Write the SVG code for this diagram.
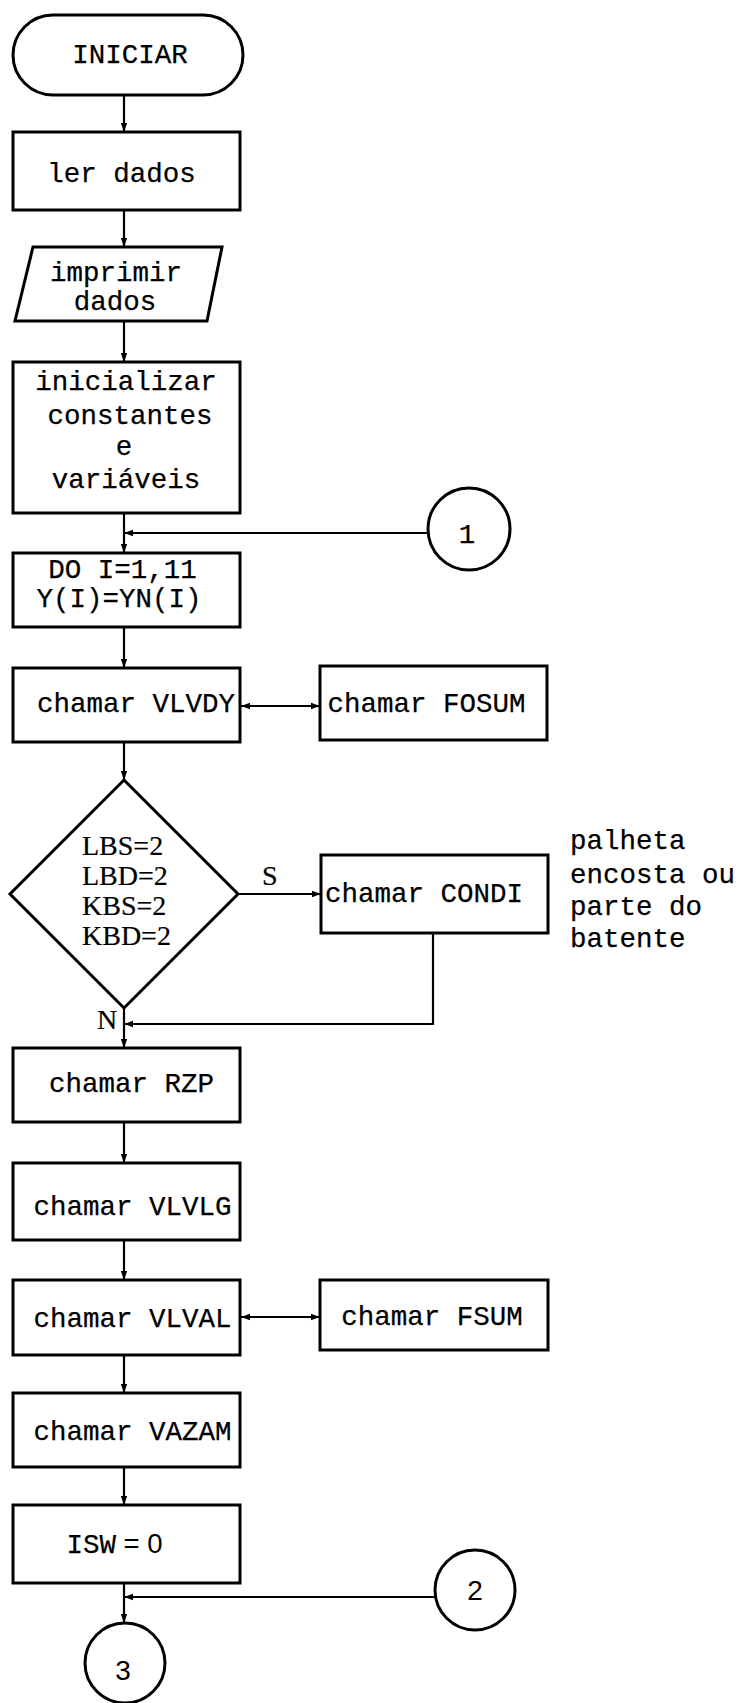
<svg xmlns="http://www.w3.org/2000/svg" width="752" height="1703" viewBox="0 0 752 1703">
<style>
.n{fill:#fff;stroke:#000;stroke-width:3}
.t{font-family:"Liberation Mono",monospace;font-size:27.5px;fill:#000;stroke:#000;stroke-width:0.25;text-anchor:middle}
.s{font-family:"Liberation Serif",serif;font-size:28px;fill:#000;stroke:#000;stroke-width:0.2}
.a{font-family:"Liberation Sans",sans-serif;font-size:28px;fill:#000;text-anchor:middle}
.c{fill:none;stroke:#000;stroke-width:2.2}
</style>
<defs>
<marker id="ah" markerUnits="userSpaceOnUse" markerWidth="10" markerHeight="8" refX="9" refY="4" orient="auto">
<path d="M0,0.8 L9,4 L0,7.2 Z" fill="#000"/>
</marker>
<marker id="as" markerUnits="userSpaceOnUse" markerWidth="10" markerHeight="8" refX="1" refY="4" orient="auto">
<path d="M10,0.8 L1,4 L10,7.2 Z" fill="#000"/>
</marker>
</defs>
<rect width="752" height="1703" fill="#fff"/>
<g id="connectors">
<path class="c" d="M124,96 V132" marker-end="url(#ah)"/>
<path class="c" d="M124,210 V247" marker-end="url(#ah)"/>
<path class="c" d="M124,321 V362" marker-end="url(#ah)"/>
<path class="c" d="M124,513 V553" marker-end="url(#ah)"/>
<path class="c" d="M428,533 H124" marker-end="url(#ah)"/>
<path class="c" d="M124,627 V668" marker-end="url(#ah)"/>
<path class="c" d="M241,706 H320" marker-start="url(#as)" marker-end="url(#ah)"/>
<path class="c" d="M124,742 V780" marker-end="url(#ah)"/>
<path class="c" d="M238,894 H321" marker-end="url(#ah)"/>
<path class="c" d="M433,933 V1024 H124" marker-end="url(#ah)"/>
<path class="c" d="M124,1008 V1048" marker-end="url(#ah)"/>
<path class="c" d="M124,1122 V1163" marker-end="url(#ah)"/>
<path class="c" d="M124,1240 V1280" marker-end="url(#ah)"/>
<path class="c" d="M241,1317 H320" marker-start="url(#as)" marker-end="url(#ah)"/>
<path class="c" d="M124,1355 V1393" marker-end="url(#ah)"/>
<path class="c" d="M124,1467 V1505" marker-end="url(#ah)"/>
<path class="c" d="M435,1597 H124" marker-end="url(#ah)"/>
<path class="c" d="M124,1583 V1623" marker-end="url(#ah)"/>
<text class="s" x="262" y="885">S</text>
<text class="s" x="97" y="1029">N</text>
</g>
<g id="iniciar">
<rect class="n" x="13" y="15" width="230" height="80" rx="40"/>
<text class="t" x="130" y="63">INICIAR</text>
</g>
<g id="ler">
<rect class="n" x="13" y="132" width="227" height="78"/>
<text class="t" x="121.5" y="182">ler dados</text>
</g>
<g id="imprimir">
<polygon class="n" points="33,247 222,247 207,321 15,321"/>
<text class="t" x="116" y="281">imprimir</text>
<text class="t" x="115" y="310">dados</text>
</g>
<g id="inicializar">
<rect class="n" x="13" y="362" width="227" height="151"/>
<text class="t" x="126" y="390">inicializar</text>
<text class="t" x="130" y="424">constantes</text>
<text class="t" x="124" y="455">e</text>
<text class="t" x="126" y="488">variáveis</text>
</g>
<g id="c1">
<circle class="n" cx="469" cy="529" r="41"/>
<text class="t" x="467" y="543">1</text>
</g>
<g id="do">
<rect class="n" x="13" y="553" width="227" height="74"/>
<text class="t" x="122.5" y="578">DO I=1,11</text>
<text class="t" x="119" y="607">Y(I)=YN(I)</text>
</g>
<g id="vlvdy">
<rect class="n" x="13" y="668" width="227" height="74"/>
<text class="t" x="136" y="712">chamar VLVDY</text>
</g>
<g id="fosum">
<rect class="n" x="320" y="666" width="227" height="74"/>
<text class="t" x="426.5" y="712">chamar FOSUM</text>
</g>
<g id="decisao">
<polygon class="n" points="124,780 238,894 124,1008 10,894"/>
<text class="s" x="82" y="855">LBS=2</text>
<text class="s" x="82" y="885">LBD=2</text>
<text class="s" x="82" y="915">KBS=2</text>
<text class="s" x="82" y="945">KBD=2</text>
</g>
<g id="condi">
<rect class="n" x="321" y="855" width="227" height="78"/>
<text class="t" x="424" y="902">chamar CONDI</text>
</g>
<g id="nota">
<text class="t" x="570" y="849" style="text-anchor:start">palheta</text>
<text class="t" x="570" y="883" style="text-anchor:start">encosta ou</text>
<text class="t" x="570" y="915" style="text-anchor:start">parte do</text>
<text class="t" x="570" y="947" style="text-anchor:start">batente</text>
</g>
<g id="rzp">
<rect class="n" x="13" y="1048" width="227" height="74"/>
<text class="t" x="131.5" y="1092">chamar RZP</text>
</g>
<g id="vlvlg">
<rect class="n" x="13" y="1163" width="227" height="77"/>
<text class="t" x="132.5" y="1215">chamar VLVLG</text>
</g>
<g id="vlval">
<rect class="n" x="13" y="1280" width="227" height="75"/>
<text class="t" x="132.5" y="1327">chamar VLVAL</text>
</g>
<g id="fsum">
<rect class="n" x="320" y="1280" width="228" height="70"/>
<text class="t" x="432" y="1325">chamar FSUM</text>
</g>
<g id="vazam">
<rect class="n" x="13" y="1393" width="227" height="74"/>
<text class="t" x="132.5" y="1440">chamar VAZAM</text>
</g>
<g id="isw">
<rect class="n" x="13" y="1505" width="227" height="78"/>
<text class="t" x="114.5" y="1553">ISW<tspan style="font-family:'Liberation Sans',sans-serif;stroke-width:0"> = 0</tspan></text>
</g>
<g id="c2">
<circle class="n" cx="475" cy="1590" r="40"/>
<text class="a" x="475" y="1600">2</text>
</g>
<g id="c3">
<circle class="n" cx="125" cy="1663" r="40"/>
<text class="a" x="123" y="1680">3</text>
</g>
</svg>
